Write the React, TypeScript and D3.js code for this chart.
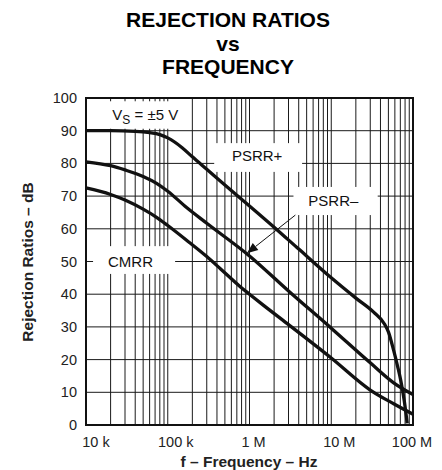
import * as d3 from 'd3';

// frequencies in Hz, values in dB
const PSRR_PLUS_F = [1e4, 2e4, 4e4, 6e4, 8e4, 1e5, 1.5e5, 2e5, 3e5, 5e5, 1e6, 2e6, 4e6, 1e7, 2e7, 3.3e7, 4.5e7, 5e7, 5.8e7, 6.5e7, 7.1e7, 7.8e7, 8.5e7];
const PSRR_PLUS_DB = [90, 90, 89.8, 89.4, 88.8, 87.8, 84.8, 82, 78.2, 73.4, 67, 60.5, 53.8, 45, 38.8, 34.5, 30.8, 28.5, 22.8, 17.8, 13.5, 7.6, 0.5];

const PSRR_MINUS_F = [1e4, 2e4, 3e4, 5e4, 7.3e4, 1e5, 1.7e5, 3e5, 1e6, 3e6, 1e7, 3e7, 5.8e7, 1e8];
const PSRR_MINUS_DB = [80.5, 79.3, 78, 76, 73.9, 71.5, 66.5, 61.7, 51.7, 41, 29.6, 19, 12.9, 9.3];

const CMRR_F = [1e4, 2e4, 3e4, 5e4, 7.3e4, 1e5, 1.7e5, 3e5, 4.4e5, 7.7e5, 1e6, 1.5e6, 2.9e6, 1e7, 3e7, 5.8e7, 1e8];
const CMRR_DB = [72.5, 70.5, 68.8, 66, 63.5, 61, 56.5, 51.5, 47.8, 42.3, 40, 36.5, 31, 20.5, 10.7, 6.5, 3.3];

const Y_TICKS = [0, 10, 20, 30, 40, 50, 60, 70, 80, 90, 100];
const X_TICKS = [1e4, 1e5, 1e6, 1e7, 1e8];
const X_TICK_LABELS = ['10 k', '100 k', '1 M', '10 M', '100 M'];
const X_LABEL_DX = [10, 8, 4, 8, -1];

const W = 442;
const H = 470;
const FONT = '"Liberation Sans", Arial, Helvetica, sans-serif';

const x = d3.scaleLog().domain([1e4, 1e8]).range([86, 413]);
const y = d3.scaleLinear().domain([0, 100]).range([425, 98]);

// label boxes that knock out the grid: [f0, f1, dbTop, dbBottom]
const boxes: [number, number, number, number][] = [
  [1.06e4, 1.75e5, 99, 90.6],
  [3.7e5, 4.4e6, 86.2, 77.4],
  [3.45e6, 3.7e7, 72.8, 64.2],
  [1.22e4, 1.23e5, 54.7, 46.2],
];

export default function App() {
  const minor: number[] = [];
  for (let e = 4; e < 8; e++) {
    for (let m = 2; m <= 9; m++) minor.push(m * 10 ** e);
  }

  const line = d3
    .line<[number, number]>()
    .x((d) => x(d[0]))
    .y((d) => y(d[1]))
    .curve(d3.curveMonotoneX);

  const series = [
    { f: PSRR_PLUS_F, db: PSRR_PLUS_DB },
    { f: PSRR_MINUS_F, db: PSRR_MINUS_DB },
    { f: CMRR_F, db: CMRR_DB },
  ];

  const [x0, x1] = x.range();
  const [yb, yt] = y.range();

  const arrowFrom: [number, number] = [x(3.64e6), y(64.2)];
  const arrowTo: [number, number] = [x(9.3e5), y(52.5)];
  const ang = Math.atan2(arrowTo[1] - arrowFrom[1], arrowTo[0] - arrowFrom[0]);
  const headLen = 11;
  const headW = 4.5;
  const baseX = arrowTo[0] - headLen * Math.cos(ang);
  const baseY = arrowTo[1] - headLen * Math.sin(ang);
  const head = [
    [arrowTo[0], arrowTo[1]],
    [baseX + headW * Math.sin(ang), baseY - headW * Math.cos(ang)],
    [baseX - headW * Math.sin(ang), baseY + headW * Math.cos(ang)],
  ]
    .map((p) => p.join(','))
    .join(' ');

  return (
    <svg
      width={W}
      height={H}
      style={{ position: 'absolute', left: 0, top: 0, background: '#fff' }}
      fontFamily={FONT}
    >
      <g textAnchor="middle" fontWeight="bold" fill="#000">
        <text x={228} y={27} fontSize={21}>REJECTION RATIOS</text>
        <text x={228} y={51} fontSize={21}>vs</text>
        <text x={228} y={74} fontSize={21}>FREQUENCY</text>
      </g>

      {/* grid */}
      <g stroke="#1a1a1a" strokeWidth={1}>
        {minor.map((f) => (
          <line key={f} x1={x(f)} x2={x(f)} y1={yt} y2={yb} />
        ))}
        {X_TICKS.map((f) => (
          <line key={'M' + f} x1={x(f)} x2={x(f)} y1={yt} y2={yb} />
        ))}
        {Y_TICKS.map((v) => (
          <line key={v} x1={x0} x2={x1} y1={y(v)} y2={y(v)} />
        ))}
      </g>

      {boxes.map((b, i) => (
        <rect
          key={i}
          x={x(b[0])}
          y={y(b[2])}
          width={x(b[1]) - x(b[0])}
          height={y(b[3]) - y(b[2])}
          fill="#fff"
        />
      ))}

      <rect x={x0} y={yt} width={x1 - x0} height={yb - yt} fill="none" stroke="#111" strokeWidth={2} />

      {/* annotations */}
      <g fontSize={15} fill="#111">
        <text x={x(2.1e4)} y={y(93.3)}>
          V<tspan dy={4} fontSize={12}>S</tspan>
          <tspan dy={-4}> = ±5 V</tspan>
        </text>
        <text x={x(6.1e5)} y={y(80.8)}>PSRR+</text>
        <text x={x(5.25e6)} y={y(67)}>PSRR–</text>
        <text x={x(1.86e4)} y={y(48.4)}>CMRR</text>
      </g>

      <line
        x1={arrowFrom[0]}
        y1={arrowFrom[1]}
        x2={baseX}
        y2={baseY}
        stroke="#111"
        strokeWidth={1}
      />
      <polygon points={head} fill="#111" />

      {/* curves */}
      <g fill="none" stroke="#111" strokeWidth={3.3} strokeLinejoin="round">
        {series.map((s, i) => (
          <path key={i} d={line(s.f.map((f, j) => [f, s.db[j]] as [number, number])) ?? ''} />
        ))}
      </g>

      {/* axes labels */}
      <g fontSize={14.5} fill="#222">
        {Y_TICKS.map((v) => (
          <text key={v} x={77} y={y(v)} dy="0.35em" textAnchor="end">
            {v}
          </text>
        ))}
        {X_TICKS.map((f, i) => (
          <text key={f} x={x(f) + X_LABEL_DX[i]} y={446.5} textAnchor="middle">
            {X_TICK_LABELS[i]}
          </text>
        ))}
      </g>

      <text x={249} y={467} textAnchor="middle" fontSize={15.5} fontWeight="bold" fill="#222">
        f – Frequency – Hz
      </text>
      <text
        transform={`translate(33, 262) rotate(-90)`}
        textAnchor="middle"
        fontSize={15.5}
        fontWeight="bold"
        fill="#222"
      >
        Rejection Ratios – dB
      </text>
    </svg>
  );
}
